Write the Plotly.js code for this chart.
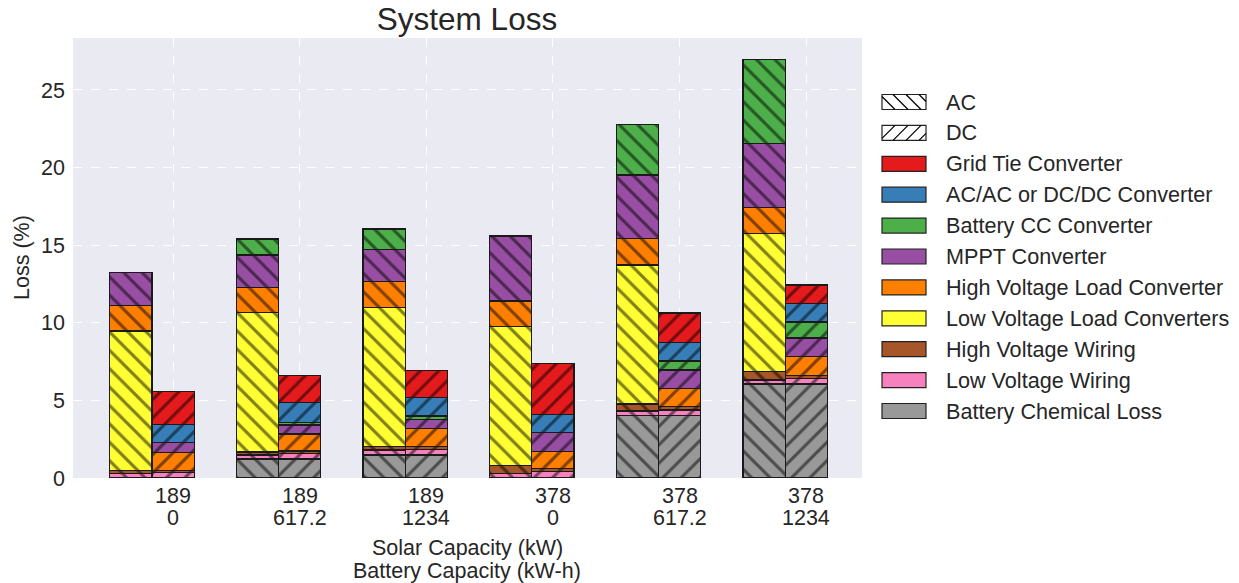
<!DOCTYPE html>
<html>
<head>
<meta charset="utf-8">
<script src="https://cdn.plot.ly/plotly-3.0.1.min.js"></script>
<style>html,body{margin:0;padding:0;background:#fff;}#chart{width:1239px;height:583px;}</style>
</head>
<body>
<div id="chart"></div>
<script>
// Categories
const solarCapacity = ["189", "189", "189", "378", "378", "378"];
const batteryCapacity = ["0", "617.2", "1234", "0", "617.2", "1234"];

// Component names (bottom of stack first)
const componentNames = [
  "Battery Chemical Loss", "Low Voltage Wiring", "High Voltage Wiring",
  "Low Voltage Load Converters", "High Voltage Load Converter", "MPPT Converter",
  "Battery CC Converter", "AC/AC or DC/DC Converter", "Grid Tie Converter"
];
const componentColors = ["#999999", "#F781BF", "#A65628", "#FFFF33", "#FF7F00", "#984EA3", "#4DAF4A", "#377EB8", "#E41A1C"];

// AC system losses (%)
const acBatteryChem = [0, 1.22, 1.48, 0, 4.01, 6.06];
const acLVWiring    = [0.27, 0.26, 0.32, 0.27, 0.31, 0.25];
const acHVWiring    = [0.20, 0.20, 0.22, 0.52, 0.45, 0.54];
const acLVLoad      = [9.00, 8.97, 8.95, 8.96, 8.95, 8.92];
const acHVLoad      = [1.63, 1.64, 1.68, 1.65, 1.72, 1.67];
const acMPPT        = [2.15, 2.08, 2.08, 4.19, 4.08, 4.13];
const acBatteryCC   = [0, 1.03, 1.31, 0, 3.27, 5.41];
const acConverter   = [0, 0, 0, 0, 0, 0];
const acGridTie     = [0, 0, 0, 0, 0, 0];

// DC system losses (%)
const dcBatteryChem = [0, 1.22, 1.48, 0, 4.01, 6.06];
const dcLVWiring    = [0.35, 0.37, 0.37, 0.40, 0.37, 0.36];
const dcHVWiring    = [0.15, 0.15, 0.17, 0.20, 0.22, 0.17];
const dcLVLoad      = [0, 0, 0, 0, 0, 0];
const dcHVLoad      = [1.12, 1.09, 1.16, 1.10, 1.15, 1.23];
const dcMPPT        = [0.65, 0.58, 0.60, 1.22, 1.21, 1.20];
const dcBatteryCC   = [0, 0.15, 0.21, 0, 0.58, 1.03];
const dcConverter   = [1.20, 1.29, 1.19, 1.18, 1.20, 1.18];
const dcGridTie     = [2.10, 1.77, 1.73, 3.29, 1.89, 1.21];

const acSeries = [acBatteryChem, acLVWiring, acHVWiring, acLVLoad, acHVLoad, acMPPT, acBatteryCC, acConverter, acGridTie];
const dcSeries = [dcBatteryChem, dcLVWiring, dcHVWiring, dcLVLoad, dcHVLoad, dcMPPT, dcBatteryCC, dcConverter, dcGridTie];

const barW = 1/3;
const n = solarCapacity.length;
const idx = [...Array(n).keys()];
const xs = [], shapesPat = [];
idx.forEach(i => { xs.push(i - barW); shapesPat.push("\\"); xs.push(i); shapesPat.push("/"); });

const traces = [];
componentNames.forEach((name, k) => {
  const ys = [];
  idx.forEach(i => {
    ys.push(acSeries[k][i] > 0 ? acSeries[k][i] : null);
    ys.push(dcSeries[k][i] > 0 ? dcSeries[k][i] : null);
  });
  traces.push({
    type: "bar", x: xs, y: ys, width: barW, name: name, showlegend: false,
    hoverinfo: "y+name",
    marker: {
      color: componentColors[k],
      line: {color: "#1a1a1a", width: 1.2},
      pattern: {shape: shapesPat, fgcolor: "#000000", bgcolor: componentColors[k], size: 13, solidity: 0.24, fillmode: "overlay"}
    }
  });
});

// ---- layout helpers (pixel -> paper) ----
const L = 73, R = 862, T = 38, B = 478;
const px2x = p => (p - L) / (R - L);
const py2y = p => (B - p) / (B - T);

const font = "Liberation Sans, Arial, sans-serif";
const txt = "#262626";
const annotations = [];
const shapes = [];

// x tick labels (two rows) and axis title lines
idx.forEach(i => {
  annotations.push({x: i, xref: "x", y: py2y(496), yref: "paper", text: solarCapacity[i], showarrow: false, xanchor: "center", yanchor: "middle", font: {size: 21.5, color: txt}});
  annotations.push({x: i, xref: "x", y: py2y(518), yref: "paper", text: batteryCapacity[i], showarrow: false, xanchor: "center", yanchor: "middle", font: {size: 21.5, color: txt}});
});
annotations.push({x: px2x(467), xref: "paper", y: py2y(548), yref: "paper", text: "Solar Capacity (kW)", showarrow: false, xanchor: "center", yanchor: "middle", font: {size: 21.5, color: txt}});
annotations.push({x: px2x(467), xref: "paper", y: py2y(571), yref: "paper", text: "Battery Capacity (kW-h)", showarrow: false, xanchor: "center", yanchor: "middle", font: {size: 21.5, color: txt}});
annotations.push({x: px2x(22), xref: "paper", y: py2y(258), yref: "paper", text: "Loss (%)", textangle: -90, showarrow: false, xanchor: "center", yanchor: "middle", font: {size: 21.5, color: txt}});

// custom legend
const legendItems = [{name: "AC", hatch: "\\"}, {name: "DC", hatch: "/"}];
for (let k = componentNames.length - 1; k >= 0; k--) legendItems.push({name: componentNames[k], color: componentColors[k]});
const symX0 = 882, symX1 = 926, symH = 15, textX = 944, firstY = 102, stepY = 30.9;
legendItems.forEach((it, j) => {
  const cy = firstY + j * stepY;
  const y0 = cy - symH / 2, y1 = cy + symH / 2;
  shapes.push({type: "rect", xref: "paper", yref: "paper", x0: px2x(symX0), x1: px2x(symX1), y0: py2y(y1), y1: py2y(y0),
    fillcolor: it.color || "#ffffff", line: {color: "#222222", width: 1.2}, layer: "above"});
  if (it.hatch) {
    // diagonal hatch lines clipped to the symbol box
    const sp = 13;
    for (let s = -symH; s < (symX1 - symX0) + symH; s += sp) {
      let xa = symX0 + s, ya = y0, xb = xa + symH, yb = y1; // '\' from top-left to bottom-right
      if (it.hatch === "/") { ya = y1; yb = y0; }
      // clip horizontally
      let t0 = 0, t1 = 1;
      const dx = xb - xa;
      if (xa < symX0) t0 = Math.max(t0, (symX0 - xa) / dx);
      if (xb > symX1) t1 = Math.min(t1, (symX1 - xa) / dx);
      if (t1 <= t0) continue;
      const cx0 = xa + dx * t0, cx1 = xa + dx * t1;
      const cy0 = ya + (yb - ya) * t0, cy1 = ya + (yb - ya) * t1;
      shapes.push({type: "line", xref: "paper", yref: "paper", x0: px2x(cx0), x1: px2x(cx1), y0: py2y(cy0), y1: py2y(cy1),
        line: {color: "#000000", width: 1.2}, layer: "above"});
    }
  }
  annotations.push({x: px2x(textX), xref: "paper", y: py2y(cy), yref: "paper", text: it.name, showarrow: false,
    xanchor: "left", yanchor: "middle", font: {size: 21.6, color: txt}});
});

const layout = {
  width: 1239, height: 583,
  margin: {l: L, r: 1239 - R, t: T, b: 583 - B},
  paper_bgcolor: "#ffffff", plot_bgcolor: "#EAEAF2",
  barmode: "stack",
  showlegend: false,
  font: {family: font, size: 21, color: txt},
  title: {text: "System Loss", font: {family: font, size: 31.5, color: txt}, x: px2x(467) * (R - L) / 1239 + L / 1239, xanchor: "center", y: 1 - 19 / 583, yanchor: "middle"},
  xaxis: {
    range: [-0.79, 5.44], tickmode: "array", tickvals: idx, showticklabels: false,
    showgrid: true, gridcolor: "#ffffff", griddash: "dash", gridwidth: 1,
    zeroline: false, showline: false, ticks: ""
  },
  yaxis: {
    range: [0, 28.35], tickvals: [0, 5, 10, 15, 20, 25],
    showgrid: true, gridcolor: "#ffffff", griddash: "dash", gridwidth: 1,
    zeroline: false, showline: false, ticks: "", ticklabelstandoff: 7,
    tickfont: {size: 21.5, color: txt}
  },
  annotations: annotations,
  shapes: shapes
};

Plotly.newPlot("chart", traces, layout, {displayModeBar: false, staticPlot: true});
</script>
</body>
</html>
